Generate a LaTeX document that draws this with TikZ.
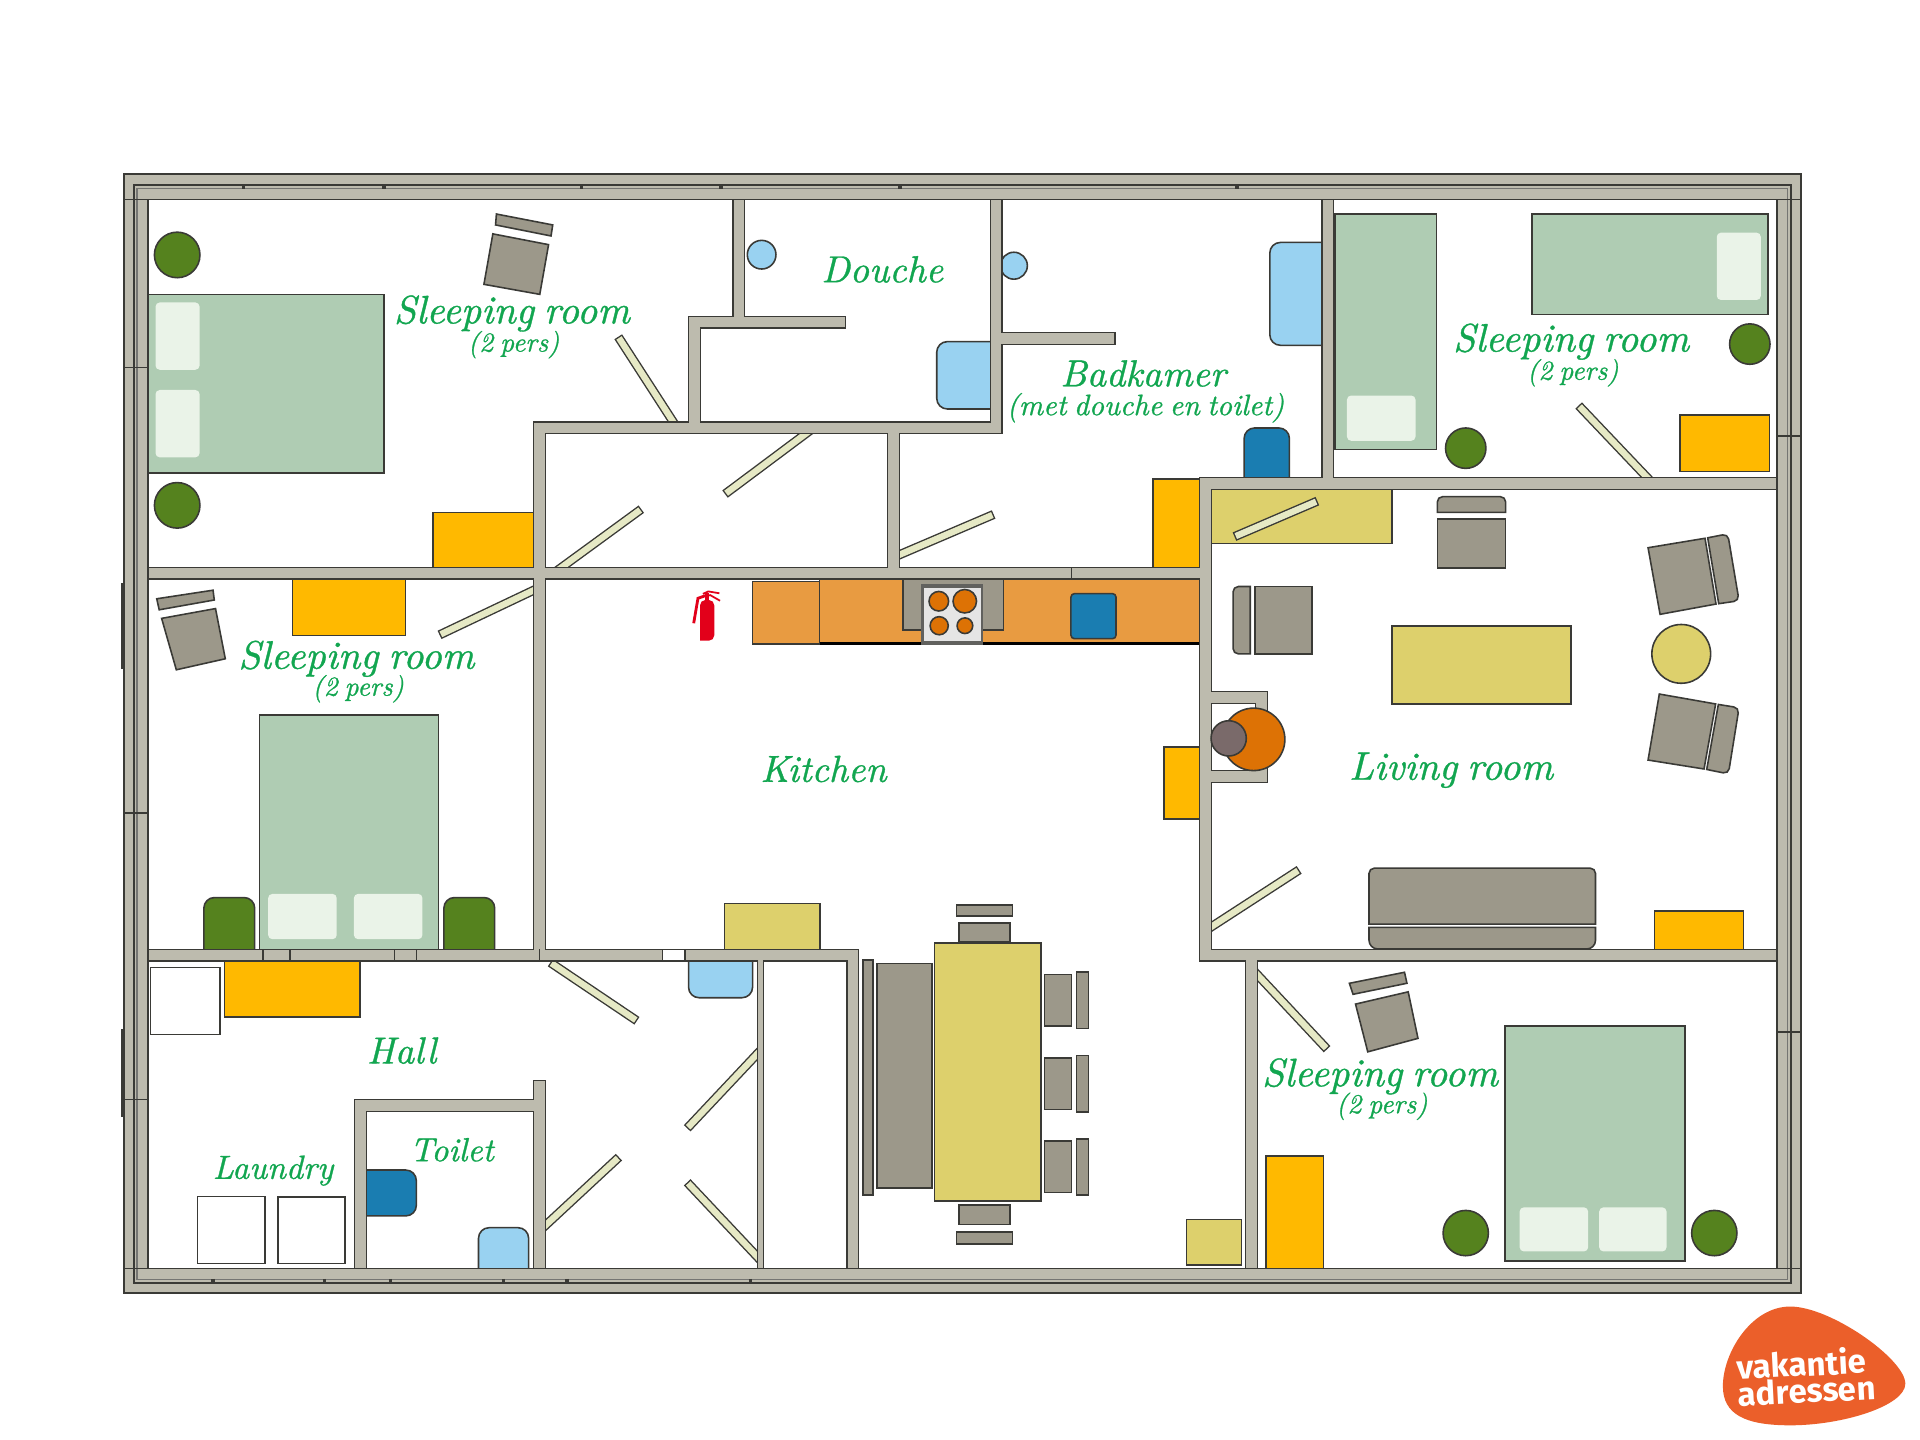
\documentclass[tikz,border=0pt]{standalone}
\usepackage{fontspec}
\usepackage{tikz}
\newfontfamily\logofont{Fira Sans}
\newfontfamily\roomfont{lmroman10-italic}[Extension=.otf, FakeBold=0.9, WordSpace=0.7]
\definecolor{wallc}{HTML}{BDBBAE}
\definecolor{linec}{HTML}{3A3A36}
\definecolor{bedc}{HTML}{AFCCB3}
\definecolor{pillowc}{HTML}{EAF3E8}
\definecolor{plantc}{HTML}{55821E}
\definecolor{cabc}{HTML}{FFB900}
\definecolor{tablec}{HTML}{DDD06C}
\definecolor{seatc}{HTML}{9C988A}
\definecolor{counterc}{HTML}{E89B41}
\definecolor{bluec}{HTML}{1A7DB1}
\definecolor{lbluec}{HTML}{99D2F1}
\definecolor{doorc}{HTML}{E6E9C5}
\definecolor{textc}{HTML}{12A650}
\definecolor{burnc}{HTML}{DD7205}
\definecolor{logoc}{HTML}{EB5F2A}
\definecolor{firec}{HTML}{E2001A}
\tikzstyle{plan}=[x=0.012245cm, y=-0.012245cm, line width=0.45pt]
\tikzstyle{bed}=[draw=linec, fill=bedc]
\tikzstyle{pillow}=[fill=pillowc, rounded corners=1.2pt]
\tikzstyle{plant}=[draw=linec, fill=plantc]
\tikzstyle{cab}=[draw=linec, fill=cabc]
\tikzstyle{tabl}=[draw=linec, fill=tablec]
\tikzstyle{seat}=[draw=linec, fill=seatc]
\tikzstyle{blue}=[draw=linec, fill=bluec]
\tikzstyle{lblue}=[draw=linec, fill=lbluec]
\tikzstyle{box}=[draw=linec, fill=white]
\tikzstyle{wallline}=[draw=linec, shorten <=-0.35pt, shorten >=-0.35pt]
\tikzstyle{wallfill}=[draw=wallc]
\tikzstyle{doorline}=[draw=linec, line width=2.6pt, shorten <=-0.4pt, shorten >=-0.4pt]
\tikzstyle{doorfill}=[draw=doorc, line width=1.8pt]
\tikzstyle{room}=[text=textc, inner sep=0pt, font=\roomfont\fontsize{11.3}{13}\selectfont]
\tikzstyle{shortroom}=[text=textc, inner sep=0pt, font=\roomfont\fontsize{10.7}{13}\selectfont]
\tikzstyle{sub}=[text=textc, inner sep=0pt, font=\roomfont\fontsize{7.8}{9}\selectfont]
\tikzstyle{longsub}=[text=textc, inner sep=0pt, font=\roomfont\fontsize{8.4}{9}\selectfont]
\tikzstyle{smallroom}=[text=textc, inner sep=0pt, font=\roomfont\fontsize{9.5}{11}\selectfont]
\tikzstyle{logotext}=[text=white, inner sep=0pt, rotate=3, align=left, font=\logofont\bfseries\fontsize{9.4}{7.6}\selectfont]
\newcommand{\door}[2]{\draw[doorline] #1 -- #2; \draw[doorfill] #1 -- #2;}
\newcommand{\wallpass}[2]{
	\draw[#1, line width=3pt+#2] (115,468) -- (984.5,468);
	\draw[#1, line width=3pt+#2] (115,780) -- (696.5,780) -- (696.5,1042);
	\draw[#1, line width=3pt+#2] (1456,395) -- (984.5,395) -- (984.5,780) -- (1456,780);
	\draw[#1, line width=3pt+#2] (440.5,468) -- (440.5,349.5) -- (813.5,349.5) -- (813.5,158);
	\draw[#1, line width=3pt+#2] (440.5,468) -- (440.5,780);
	\draw[#1, line width=3pt+#2] (440.5,883) -- (440.5,1042);
	\draw[#1, line width=3pt+#2] (729.5,349.5) -- (729.5,468);
	\draw[#1, line width=3pt+#2] (567,349.5) -- (567,263) -- (690,263);
	\draw[#1, line width=3pt+#2] (603.5,158) -- (603.5,263);
	\draw[#1, line width=3pt+#2] (813.5,276.5) -- (910,276.5);
	\draw[#1, line width=3pt+#2] (1084.5,158) -- (1084.5,395);
	\draw[#1, line width=3pt+#2] (294.5,1042) -- (294.5,903) -- (440.5,903);
	\draw[#1, line width=3pt+#2] (1022,780) -- (1022,1042);
	\draw[#1, line width=3pt+#2] (984.5,569.5) -- (1030,569.5) -- (1030,634) -- (984.5,634);
	\draw[#1, line width=1.4pt+#2] (621,780) -- (621,1042);
}
\begin{document}
\begin{tikzpicture}[plan]
	\path[use as bounding box, fill=white] (0,0) rectangle (1568,1176);

	%The beds and pillows
	\draw[bed] (115,240.5) rectangle (313.5,386.5);
	\draw[bed] (212,584) rectangle (358,780);
	\draw[bed] (1090,175) rectangle (1173,367);
	\draw[bed] (1251,175) rectangle (1444,257);
	\draw[bed] (1229,838) rectangle (1376,1030);
	\fill[pillow] (127,247) rectangle (163,302);
	\fill[pillow] (127,318.5) rectangle (163,373.5);
	\fill[pillow] (219,730) rectangle (275,767);
	\fill[pillow] (289,730) rectangle (345,767);
	\fill[pillow] (1100,323) rectangle (1156,360);
	\fill[pillow] (1402,190) rectangle (1438,245);
	\fill[pillow] (1241,986) rectangle (1297,1022);
	\fill[pillow] (1306,986) rectangle (1361,1022);

	%The plants
	\draw[plant] (144.7,208.2) circle (18.6);
	\draw[plant] (144.7,412.7) circle (18.6);
	\draw[plant] (1429,281) circle (16.5);
	\draw[plant] (1197,366) circle (16.5);
	\draw[plant] (1197,1007) circle (18.5);
	\draw[plant] (1400,1007) circle (18.5);
	\draw[plant, rounded corners=3pt] (166.5,784) rectangle (208,733);
	\draw[plant, rounded corners=3pt] (362.5,784) rectangle (404,733);

	%The cupboards
	\draw[cab] (353.6,418.4) rectangle (440,468);
	\draw[cab] (239,468) rectangle (331,519);
	\draw[cab] (941.8,391) rectangle (984,468);
	\draw[cab] (950.8,610) rectangle (984,669);
	\draw[cab] (183.5,780) rectangle (294,830.7);
	\draw[cab] (1372,339) rectangle (1445,385);
	\draw[cab] (1351,744) rectangle (1424,780);
	\draw[cab] (1034,944) rectangle (1081,1040);

	%The tables
	\draw[tabl] (985,395) rectangle (1137,444);
	\draw[tabl] (1137,511) rectangle (1283,575);
	\draw[tabl] (1373,534) circle (24);
	\draw[tabl] (591.7,738) rectangle (669.5,780);
	\draw[tabl] (763,770) rectangle (850,981);
	\draw[tabl] (969,996) rectangle (1014,1033);

	%The white boxes
	\draw[box] (122.8,790) rectangle (179.7,845);
	\draw[box] (161.3,977) rectangle (216.3,1032);
	\draw[box] (227,977.7) rectangle (281.7,1032);

	%The kitchen counter
	\draw[draw=linec, fill=counterc] (669.4,468) rectangle (984,525.6);
	\draw[draw=black, line width=0.9pt] (669.4,525.8) -- (984,525.8);
	\draw[draw=linec, fill=counterc] (614.4,475) rectangle (669.4,526);
	\draw[seat] (737.5,468) rectangle (819.6,514.5);
	\fill[linec!80] (752,477) rectangle (803,526.5);
	\fill[gray!20] (754.7,480) rectangle (801,523.7);
	\draw[draw=linec, fill=burnc] (766.7,491) circle (8);
	\draw[draw=linec, fill=burnc] (787.9,491) circle (9.6);
	\draw[draw=linec, fill=burnc] (767,511) circle (7.4);
	\draw[draw=linec, fill=burnc] (788,511) circle (6.4);
	\draw[blue, rounded corners=1pt] (874.6,484.8) rectangle (911.4,521.6);

	%The blue things
	\draw[blue] (1016,395) [rounded corners=3pt] -- (1016,349.5) -- (1053,349.5) [sharp corners] -- (1053,395);
	\draw[blue] (295,955.5) [rounded corners=3pt] -- (340,955.5) -- (340,993) [sharp corners] -- (295,993);
	\draw[lblue] (622,208) circle (11.7);
	\draw[lblue] (828,217) circle (11);
	\draw[lblue] (812,279) [rounded corners=3pt] -- (765,279) -- (765,334) [sharp corners] -- (812,334);
	\draw[lblue] (1084,198) [rounded corners=3pt] -- (1037,198) -- (1037,282) [sharp corners] -- (1084,282);
	\draw[lblue] (562.3,780) [rounded corners=3pt] -- (562.3,814.8) -- (614.6,814.8) [sharp corners] -- (614.6,780);
	\draw[lblue] (390.8,1040) [rounded corners=3pt] -- (390.8,1002.6) -- (431.7,1002.6) [sharp corners] -- (431.7,1040);

	%The chairs
	\draw[seat] (402.5,191) -- (448,199.8) -- (440.8,240.4) -- (395.2,232.2) -- cycle;
	\draw[seat] (405.4,174.8) -- (451.4,183.7) -- (450,192.7) -- (404.7,183.7) -- cycle;
	\draw[seat] (132,505) -- (176,497) -- (184,538) -- (144,547) -- cycle;
	\draw[seat] (128,489) -- (174,482) -- (175,490) -- (130,498) -- cycle;
	\draw[seat] (1107,820) -- (1150,810) -- (1158,848) -- (1117,859) -- cycle;
	\draw[seat] (1102,803) -- (1147,794) -- (1149,803) -- (1105,812) -- cycle;
	\draw[seat] (1173.8,423.9) rectangle (1229.6,464);
	\draw[seat] (1173.8,418.4) [rounded corners=1.5pt] -- (1173.8,405.6) -- (1229.6,405.6) [sharp corners] -- (1229.6,418.4) -- cycle;
	\draw[seat] (1025,479) rectangle (1071.5,534);
	\draw[seat] (1021,479) [rounded corners=1.5pt] -- (1007,479) -- (1007,534) [sharp corners] -- (1021,534) -- cycle;
	\draw[seat] (1345.9,447.3) -- (1392.4,439.6) -- (1401.4,493.3) -- (1355.7,501.7) -- cycle;
	\draw[seat] (1394.6,439.2) [rounded corners=1.5pt] -- (1411,436) -- (1420.2,490.6) [sharp corners] -- (1403.6,493) -- cycle;
	\draw[seat] (1355.1,566.8) -- (1401.1,574.9) -- (1391.6,628) -- (1345.9,620.7) -- cycle;
	\draw[seat] (1403.3,575.3) [rounded corners=1.5pt] -- (1420.2,578) -- (1411.5,632) [sharp corners] -- (1393.8,628.4) -- cycle;

	%The sofa
	\draw[seat] (1118,754.7) [rounded corners=1.5pt] -- (1118,709) -- (1303,709) [sharp corners] -- (1303,754.7) -- cycle;
	\draw[seat] (1118,757.3) [rounded corners=2.5pt] -- (1118,775) -- (1303,775) [sharp corners] -- (1303,757.3) -- cycle;

	%The dining set
	\draw[seat] (705,784) rectangle (713,976);
	\draw[seat] (716,787) rectangle (761,970);
	\draw[seat] (781,739) rectangle (827,748);
	\draw[seat] (783,754) rectangle (825,769);
	\draw[seat] (783,984) rectangle (825,1000);
	\draw[seat] (781,1006) rectangle (827,1016);
	\foreach \y in {796,864,932} {
		\draw[seat] (853,\y) rectangle (875,\y+42);
		\draw[seat] (879,\y-2) rectangle (889,\y+44);
	}

	%The doors
	\door{(505.5,276)}{(552,348)}
	\door{(522.8,416.5)}{(455,466)}
	\door{(593,402.8)}{(661,352)}
	\door{(810.4,420.6)}{(730,455)}
	\door{(1074.8,409.7)}{(1009.2,437.8)}
	\door{(1290,332)}{(1348,393)}
	\door{(360,518)}{(438,481)}
	\door{(1060,711)}{(986,759)}
	\door{(1024,793)}{(1083,856)}
	\door{(450.4,786.7)}{(519.2,833)}
	\door{(620,859)}{(562,920.6)}
	\door{(620,1028)}{(562,966.4)}
	\door{(443,1003)}{(504.6,945.8)}

	%The walls
	\wallpass{wallline}{0.7pt}
	\wallpass{wallfill}{0pt}
	\foreach \x in {215,237,322,340} {
		\draw[draw=linec] (\x,775.3) -- (\x,784.5);
	}
	\draw[draw=linec] (440.5,775.3) -- (440.5,784.5);
	\draw[draw=linec] (875,463.3) -- (875,472.7);
	\draw[draw=linec, fill=white] (541,775.3) rectangle (559.5,784.5);

	%The outer wall
	\draw[draw=linec, fill=wallc, even odd rule, line width=0.5pt] (101,142) rectangle (1471,1056) (121,163) rectangle (1451,1036);
	\draw[draw=linec, line width=0.5pt] (109.5,151) rectangle (1462.4,1047.5);
	\draw[draw=linec!70, line width=0.4pt] (112,153.8) rectangle (1460,1045);
	\foreach \x in {199,313.5,475,589,735,1010} {
		\draw[draw=linec, line width=1pt] (\x,150.5) -- (\x,154);
	}
	\foreach \x in {174,265,319,411,463,613} {
		\draw[draw=linec, line width=1pt] (\x,1044.5) -- (\x,1048);
	}
	\foreach \y in {163,300,664,898,1036} {
		\draw[draw=linec] (101,\y) -- (121,\y);
	}
	\foreach \y in {163,356,843,1036} {
		\draw[draw=linec] (1451,\y) -- (1471,\y);
	}
	\draw[draw=linec, line width=0.7pt] (100,476) -- (100,546);
	\draw[draw=linec, line width=0.7pt] (100,840) -- (100,912);

	%The round seat in the niche
	\draw[draw=linec, fill=burnc] (1023.8,603.8) circle (25.5);
	\draw[draw=linec, fill={rgb,255:red,122;green,106;blue,106}] (1003.4,603) circle (14.4);

	%The fire extinguisher
	\draw[draw=firec, line width=0.8pt] (576,486.5) -- (570,488.6) -- (566.5,509);
	\draw[draw=firec, line width=0.5pt] (574,485) -- (578.5,483) -- (587.5,484.5);
	\draw[draw=firec, line width=0.5pt] (576,487) -- (580,486) -- (588,490.6);
	\fill[firec] (575.5,484) rectangle (578.7,492);
	\fill[firec, rounded corners=1.5pt] (571.7,523.2) -- (571.7,490) -- (583.3,490) -- (583.3,523.2) [sharp corners] -- cycle;

	%The room labels
	\draw (418,256) node[room] (sleep1) {Sleeping room};
	\draw (419.5,281.5) node[sub] (pers1) {(2 pers)};
	\draw (720.5,220) node[shortroom] (douche) {Douche};
	\draw (933.5,305) node[shortroom] (badkamer) {Badkamer};
	\draw (935.5,333) node[longsub] (badsub) {(met douche en toilet)};
	\draw (1283,279) node[room] (sleep2) {Sleeping room};
	\draw (1284.5,304.5) node[sub] (pers2) {(2 pers)};
	\draw (291,538) node[room] (sleep3) {Sleeping room};
	\draw (292.5,562.5) node[sub] (pers3) {(2 pers)};
	\draw (672.5,628) node[shortroom] (kitchen) {Kitchen};
	\draw (1185,629) node[room] (living) {Living room};
	\draw (328,858) node[shortroom] (hall) {Hall};
	\draw (223,956) node[smallroom] (laundry) {Laundry};
	\draw (369,939) node[smallroom] (toilet) {Toilet};
	\draw (1127,879) node[room] (sleep4) {Sleeping room};
	\draw (1128.5,903.5) node[sub] (pers4) {(2 pers)};

	%The logo
	\fill[logoc] (1407,1132) .. controls (1407,1105) and (1430,1067) .. (1462,1067) .. controls (1495,1067) and (1556,1110) .. (1556,1130) .. controls (1556,1148) and (1505,1164) .. (1462,1164) .. controls (1425,1164) and (1407,1155) .. (1407,1132);
	\draw (1475,1124) node[logotext] (logoname) {vakantie\\adressen};
\end{tikzpicture}
\end{document}
